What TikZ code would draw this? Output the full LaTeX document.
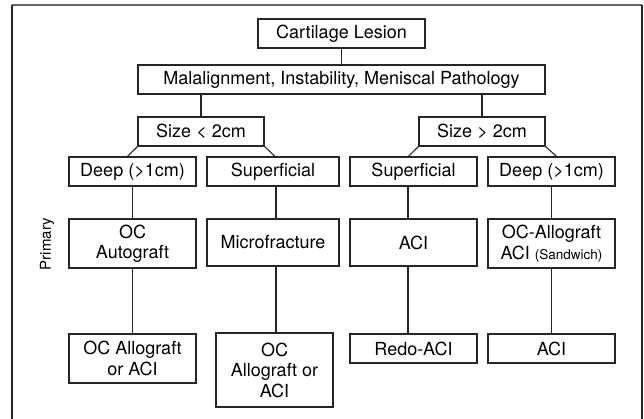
\documentclass[tikz,border=0pt]{standalone}
\usepackage{fontspec}
\setmainfont{TeX Gyre Heros}
\begin{document}
\begin{tikzpicture}[x=1pt,y=-1pt,
    blk/.style={draw=black!85,line width=1.2pt,inner sep=0pt,align=center,
      font=\fontsize{18}{20.5}\selectfont},
    lnk/.style={draw=black!85,line width=1.1pt}]
  \useasboundingbox (0,0) rectangle (644,419);
  \draw[line width=1.6pt,black!60] (11.7,5) -- (641.7,5);
  \draw[line width=1.6pt,black!85] (11.7,5) -- (11.7,419);
  \draw[line width=1.6pt,black!85] (641.7,5) -- (641.7,419);
  \node[blk,minimum width=167pt,minimum height=29pt] (lesion) at (341.5,33.5) {Cartilage Lesion};
  \node[blk,minimum width=407pt,minimum height=29pt] (mal) at (341.5,79.5) {Malalignment, Instability, Meniscal Pathology};
  \node[blk,minimum width=126pt,minimum height=29pt] (small) at (201,131.5) {Size < 2cm};
  \node[blk,minimum width=126pt,minimum height=29pt] (large) at (482,131.5) {Size > 2cm};
  \node[blk,minimum width=127pt,minimum height=29pt] (deepS) at (132.5,171.5) {Deep (>1cm)};
  \node[blk,minimum width=132pt,minimum height=29pt] (supS) at (273,171.5) {Superficial};
  \node[blk,minimum width=127pt,minimum height=29pt] (supL) at (413.5,171.5) {Superficial};
  \node[blk,minimum width=127pt,minimum height=29pt] (deepL) at (551.5,171.5) {Deep (>1cm)};
  \node[rotate=90,font=\fontsize{15}{18}\selectfont] (prim) at (47,244) {Primary};
  \node[blk,minimum width=127pt,minimum height=49pt] (autoS) at (132.5,243.5) {OC\\Autograft};
  \node[blk,minimum width=132pt,minimum height=47pt] (micro) at (273,242.5) {Microfracture};
  \node[blk,minimum width=127pt,minimum height=47pt] (aciL) at (413.5,242.5) {ACI};
  \node[blk,minimum width=127pt,minimum height=49pt] (alloL) at (551.5,243.5) {OC-Allograft\\ACI {\fontsize{13.5}{16}\selectfont(Sandwich)}};
  \node[blk,minimum width=127pt,minimum height=49pt] (revA) at (132.5,358.5) {OC Allograft\\or ACI};
  \node[blk,minimum width=117pt,minimum height=74pt] (revB) at (274.5,370) {OC\\Allograft or\\ACI};
  \node[blk,minimum width=127pt,minimum height=29pt] (revC) at (413.5,348.5) {Redo-ACI};
  \node[blk,minimum width=127pt,minimum height=29pt] (revD) at (551.5,348.5) {ACI};
  \draw[lnk] (lesion) -- (mal);
  \draw[lnk] (mal.south -| small) -- (small);
  \draw[lnk] (mal.south -| large) -- (large);
  \draw[lnk] (small.south west) -- ([xshift=-5pt]deepS.north);
  \draw[lnk] (small.south east) -- ([xshift=2pt]supS.north);
  \draw[lnk] (large.south west) -- ([xshift=-5pt]supL.north);
  \draw[lnk] (large.south east) -- ([xshift=5pt]deepL.north);
  \draw[lnk] (deepS) -- (autoS);
  \draw[lnk] ([xshift=3pt]supS.south) -- ([xshift=3pt]micro.north);
  \draw[lnk] ([xshift=-5.5pt]supL.south) -- ([xshift=-5.5pt]aciL.north);
  \draw[lnk] (deepL) -- (alloL);
  \draw[lnk] (autoS) -- (revA);
  \draw[lnk] ([xshift=3pt]micro.south) -- ([xshift=3pt]micro.south |- revB.north);
  \draw[lnk] ([xshift=-5.5pt]aciL.south) -- ([xshift=-5.5pt]revC.north);
  \draw[lnk] (alloL) -- (revD);
\end{tikzpicture}
\end{document}
